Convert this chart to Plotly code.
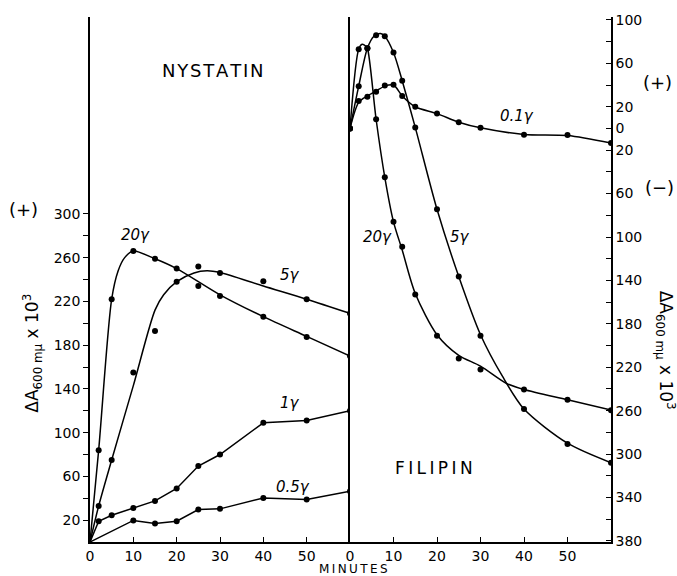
import plotly.graph_objects as go

# ---------------- DATA ----------------
# Nystatin (left panel), ΔA600 x10^3 (positive)
nys_min = [2, 5, 10, 15, 20, 25, 30, 40, 50, 60]
nys_20 = [84, 222, 266, 259, 250, 234, 225, 206, 187.5, 170]
nys_5 = [33, 75, 155, 193, 238, 252, 246, 238.5, 222, 209]
nys_1 = [19, 24.5, 31, 37.6, 49, 69.4, 80, 109, 111, 120]
nys_05_min = [10, 15, 20, 25, 30, 40, 50, 60]
nys_05 = [19.7, 17, 19, 29.7, 30.3, 40.3, 38.8, 46.4]

# hand-drawn fitted curves (Nystatin)
nys_20_curve_min = [0, 2, 5, 6.5, 8, 10, 15, 20, 30, 40, 50, 60]
nys_20_curve = [0, 84, 222, 248, 260, 266, 259, 250, 226, 206, 188, 170]
nys_5_curve_min = [0, 2, 5, 10, 15, 17, 20, 24, 27, 30, 40, 50, 60]
nys_5_curve = [0, 33, 75, 143, 212, 226, 238, 246, 248, 246.4, 234, 222, 209]
nys_1_curve_min = [0] + nys_min
nys_1_curve = [0] + nys_1
nys_05_curve_min = [0] + nys_05_min
nys_05_curve = [0] + nys_05

# Filipin (right panel), ΔA600 x10^3 (+ above, - below)
fil_min = [0, 2, 4, 6, 8, 10, 12, 15, 20, 25, 30, 40, 50, 60]
fil_20 = [0, 73, 74, 8.5, -45, -86, -109, -153, -191, -212, -222, -240.5, -250, -259.5]
fil_5 = [0, 39, 74, 86, 85, 70, 44, 1, -74.5, -136.4, -191, -258.5, -290.6, -308]
fil_01 = [0, 25.3, 29.3, 33.9, 39.7, 40.3, 29.9, 19.9, 13.7, 5.8, 0.6, -5.8, -6.1, -13.4]

fil_20_curve_min = [0, 2, 2.8, 3.6, 4, 6, 8, 10, 12, 15, 20, 25, 30, 36, 40, 50, 60]
fil_20_curve = [0, 73, 77.5, 76, 74, 8.5, -45, -86, -112, -152, -190, -209, -219, -235, -240.5, -250, -259.5]
fil_5_curve_min = [0, 2, 4, 5.5, 7, 8, 10, 12, 15, 20, 25, 30, 35, 40, 50, 60]
fil_5_curve = [0, 39, 74, 85, 87.5, 85, 70, 44, 1, -74.5, -136.4, -190, -228, -258.5, -290, -308]
fil_01_curve_min = fil_min
fil_01_curve = [0, 24, 30, 34.5, 39, 40, 30, 20, 13.7, 5.8, 0.6, -5.5, -6.5, -13.4]

# tick labels
x_tickvals = [0, 10, 20, 30, 40, 50]
x_ticktext = ["0", "10", "20", "30", "40", "50"]
left_tickvals = [20, 60, 100, 140, 180, 220, 260, 300]
left_ticktext = [str(v) for v in left_tickvals]
left_minor = [40, 80, 120, 160, 200, 240, 280]
right_tickvals = [100, 60, 20, 0, -20, -60, -100, -140, -180, -220, -260, -300, -340, -380]
right_ticktext = [str(abs(v)) for v in right_tickvals]
right_minor = [80, 40, -40, -80, -120, -160, -200, -240, -280, -320, -360]

FONT = "DejaVu Sans"
LW = 1.5

fig = go.Figure()


def curve(x, y, xa, ya):
    fig.add_trace(go.Scatter(x=x, y=y, mode="lines", xaxis=xa, yaxis=ya,
                             line=dict(color="black", width=LW, shape="spline", smoothing=0.8),
                             hoverinfo="skip", showlegend=False))


def straight(x, y, xa, ya):
    fig.add_trace(go.Scatter(x=x, y=y, mode="lines", xaxis=xa, yaxis=ya,
                             line=dict(color="black", width=LW),
                             hoverinfo="skip", showlegend=False))


def dots(x, y, xa, ya):
    fig.add_trace(go.Scatter(x=x, y=y, mode="markers", xaxis=xa, yaxis=ya,
                             marker=dict(color="black", size=6),
                             showlegend=False))


curve(nys_20_curve_min, nys_20_curve, "x", "y")
curve(nys_5_curve_min, nys_5_curve, "x", "y")
straight(nys_1_curve_min, nys_1_curve, "x", "y")
straight(nys_05_curve_min, nys_05_curve, "x", "y")
dots(nys_min, nys_20, "x", "y")
dots(nys_min, nys_5, "x", "y")
dots(nys_min, nys_1, "x", "y")
dots(nys_05_min, nys_05, "x", "y")

curve(fil_20_curve_min, fil_20_curve, "x2", "y2")
curve(fil_5_curve_min, fil_5_curve, "x2", "y2")
curve(fil_01_curve_min, fil_01_curve, "x2", "y2")
dots(fil_min, fil_20, "x2", "y2")
dots(fil_min, fil_5, "x2", "y2")
dots(fil_min, fil_01, "x2", "y2")

# invisible trace to make the divider axis render
fig.add_trace(go.Scatter(x=[None], y=[None], xaxis="x2", yaxis="y3", showlegend=False))

W, H = 677, 576
ML, MR, MT, MB = 90, 66, 16, 33
PW = W - ML - MR
PH = H - MT - MB
split = 260 / PW

axis_common = dict(showgrid=False, zeroline=False, showline=True, linecolor="black",
                   linewidth=LW, tickcolor="black", tickwidth=1.3,
                   tickfont=dict(family=FONT, size=14, color="black"))

fig.update_layout(
    width=W, height=H,
    margin=dict(l=ML, r=MR, t=MT, b=MB),
    paper_bgcolor="white", plot_bgcolor="white",
    showlegend=False,
    xaxis=dict(domain=[0, split], range=[0, 60], anchor="y", tickvals=x_tickvals,
               ticktext=x_ticktext, ticks="inside", ticklen=5, **axis_common),
    xaxis2=dict(domain=[split, 1], range=[0, 60], anchor="y2", tickvals=x_tickvals,
                ticktext=x_ticktext, ticks="inside", ticklen=5, **axis_common),
    yaxis=dict(domain=[0, 1], range=[0, 480], anchor="x", tickvals=left_tickvals,
               ticktext=left_ticktext, ticks="outside", ticklen=5,
               minor=dict(tickvals=left_minor, ticks="outside", ticklen=5,
                          tickcolor="black", tickwidth=1.3, showgrid=False),
               **axis_common),
    yaxis2=dict(domain=[0, 1], range=[-381, 102.7], anchor="x2", side="right",
                tickvals=right_tickvals, ticktext=right_ticktext, ticks="inside",
                ticklen=5,
                minor=dict(tickvals=right_minor, ticks="inside", ticklen=5,
                           tickcolor="black", tickwidth=1.3, showgrid=False),
                **axis_common),
    yaxis3=dict(range=[-381, 102.7], anchor="x2", side="left", overlaying="y2",
                showgrid=False, zeroline=False, showline=True, linecolor="black",
                linewidth=LW, ticks="", showticklabels=False),
)


def px_to_paper(px, py):
    return (px - ML) / PW, (H - MB - py) / PH


def ann(text, px, py, size=14, angle=0, italic=False):
    x, y = px_to_paper(px, py)
    if italic:
        text = "<i>" + text + "</i>"
    fig.add_annotation(text=text, x=x, y=y, xref="paper", yref="paper",
                       showarrow=False, textangle=angle, xanchor="center", yanchor="middle",
                       font=dict(family=FONT, size=size, color="black"))


def spaced(word, sep):
    return sep.join(list(word))


ann(spaced("NYSTATIN", "\u200a"), 213, 70, size=18)
ann(spaced("FILIPIN", "\u2009"), 434, 469, size=17)
ann("(+)", 23, 209, size=18)
ann("(+)", 657, 82, size=18)
ann("(−)", 659, 187, size=18)
ann(spaced("MINUTES", "\u2009"), 353, 570, size=12)
ann("ΔA<sub>600 mμ</sub> x 10<sup>3</sup>", 33, 354, size=17, angle=-90)
ann("ΔA<sub>600 mμ</sub> x 10<sup>3</sup>", 665, 350, size=17, angle=90)

ann("20γ", 135, 235, size=15, italic=True)
ann("5γ", 290, 275, size=15, italic=True)
ann("1γ", 290, 403, size=15, italic=True)
ann("0.5γ", 293, 488, size=15, italic=True)
ann("0.1γ", 517, 115, size=15, italic=True)
ann("20γ", 377, 237, size=15, italic=True)
ann("5γ", 460, 237, size=15, italic=True)

fig.write_html("out.html")
